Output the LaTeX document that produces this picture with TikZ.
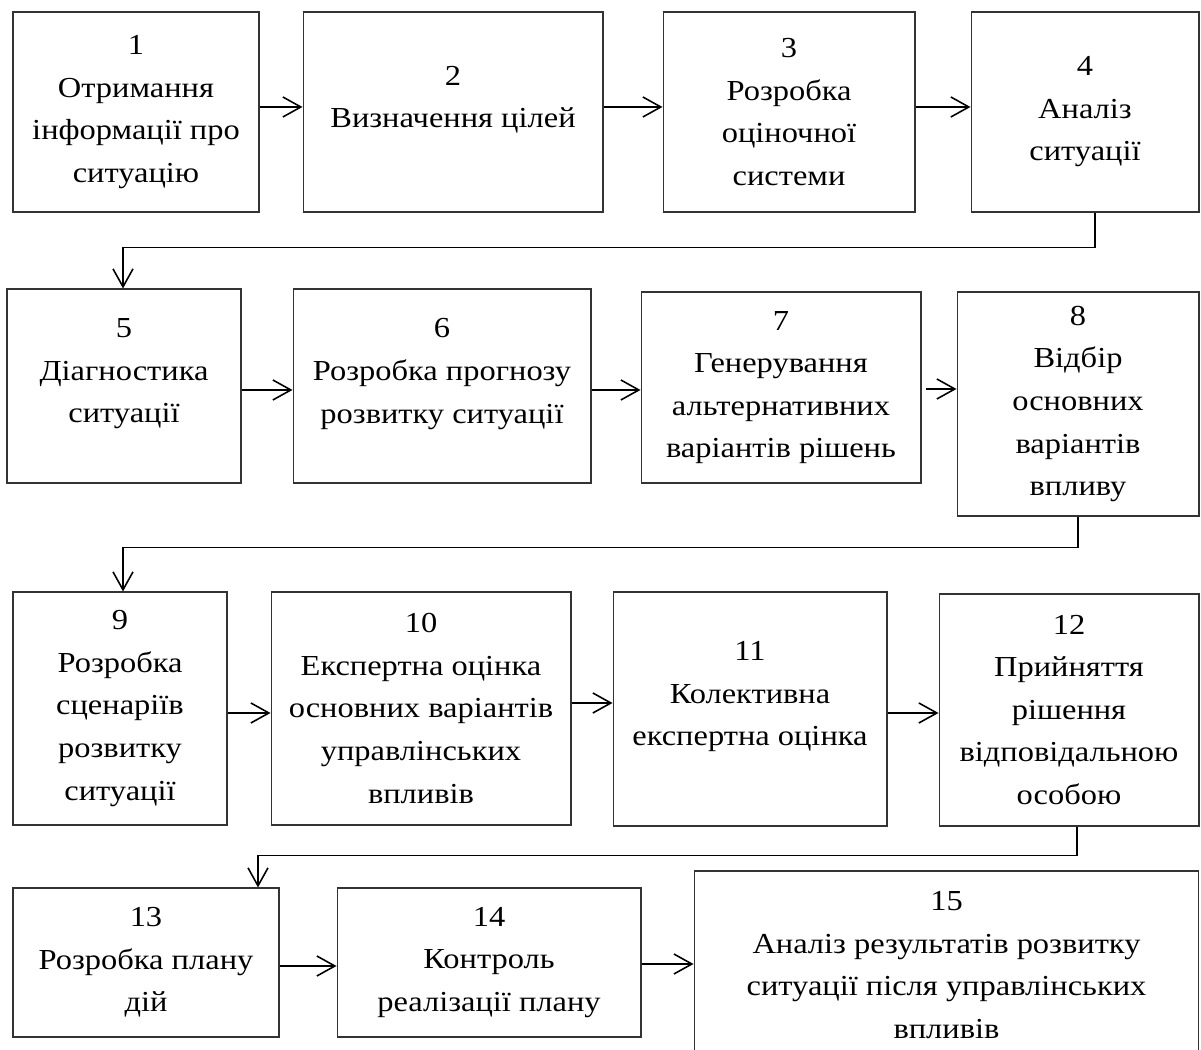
\documentclass[tikz,border=0pt]{standalone}
\usepackage{fontspec}
\setmainfont{Liberation Serif}[FakeStretch=1.12]
\usetikzlibrary{arrows.meta}
\newcommand\padline{\\[-7pt]\mbox{}}

\tikzset{
  blk/.style={draw=black!80, line width=0.6pt, align=center, inner sep=2pt,
    font=\fontsize{16.5}{24.2}\selectfont},
  arr/.style={line width=0.9pt, -{Straight Barb[length=3.6mm,width=4mm]}},
}

\begin{document}
\begin{tikzpicture}[x=0.02cm,y=-0.02cm]
  \clip (0,0) rectangle (1201,1050);
  % row 1
  \node[blk,minimum width=4.92cm,minimum height=4cm] (b1) at (136,112) {1\\Отримання\\інформації про\\ситуацію};
  \node[blk,minimum width=6cm,minimum height=4cm] (b2) at (453,112) {2\\Визначення цілей\padline};
  \node[blk,minimum width=5.04cm,minimum height=4cm] (b3) at (789,112) {3\\Розробка\\оціночної\\системи};
  \node[blk,minimum width=4.56cm,minimum height=4cm] (b4) at (1085,112) {4\\Аналіз\\ситуації};
  % row 2
  \node[blk,minimum width=4.68cm,minimum height=3.88cm] (b5) at (124,386) {5\\Діагностика\\ситуації\padline};
  \node[blk,minimum width=5.96cm,minimum height=3.88cm] (b6) at (442,386) {6\\Розробка прогнозу\\розвитку ситуації\padline};
  \node[blk,minimum width=5.6cm,minimum height=3.82cm] (b7) at (781,387.5) {7\\Генерування\\альтернативних\\варіантів рішень};
  \node[blk,minimum width=4.84cm,minimum height=4.48cm] (b8) at (1078,404) {8\\Відбір\\основних\\варіантів\\впливу};
  % row 3
  \node[blk,minimum width=4.28cm,minimum height=4.66cm] (b9) at (120,708.5) {9\\Розробка\\сценаріїв\\розвитку\\ситуації};
  \node[blk,minimum width=6cm,minimum height=4.66cm] (b10) at (421,708.5) {10\\Експертна оцінка\\основних варіантів\\управлінських\\впливів};
  \node[blk,minimum width=5.48cm,minimum height=4.68cm] (b11) at (750,709) {11\\Колективна\\експертна оцінка\padline};
  \node[blk,minimum width=5.2cm,minimum height=4.64cm] (b12) at (1069,710) {12\\Прийняття\\рішення\\відповідальною\\особою};
  % row 4
  \node[blk,minimum width=5.32cm,minimum height=2.98cm] (b13) at (146,962.5) {13\\Розробка плану\\дій};
  \node[blk,minimum width=6.08cm,minimum height=2.98cm] (b14) at (489,962.5) {14\\Контроль\\реалізації плану};
  \node[blk,minimum width=10.1cm,minimum height=3.76cm] (b15) at (946.5,965) {15\\Аналіз результатів розвитку\\ситуації після управлінських\\впливів};

  % straight arrows
  \draw[arr] (b1.east |- 0,107) -- (b2.west |- 0,107);
  \draw[arr] (b2.east |- 0,107) -- (b3.west |- 0,107);
  \draw[arr] (b3.east |- 0,107) -- (b4.west |- 0,107);
  \draw[arr] (b5.east |- 0,390) -- (b6.west |- 0,390);
  \draw[arr] (b6.east |- 0,390) -- (b7.west |- 0,390);
  \draw[arr] (b7.east |- 0,389) ++(4,0) -- (b8.west |- 0,389);
  \draw[arr] (b9.east |- 0,713) -- (b10.west |- 0,713);
  \draw[arr] (b10.east |- 0,703) -- (b11.west |- 0,703);
  \draw[arr] (b11.east |- 0,713) -- (b12.west |- 0,713);
  \draw[arr] (b13.east |- 0,966) -- (b14.west |- 0,966);
  \draw[arr] (b14.east |- 0,964) -- (b15.west |- 0,964);

  % row to row
  \draw[arr] (b4.south -| 1095,0) -- ++(0,35) -| (b5.north -| 123,0);
  \draw[arr] (b8.south) -- ++(0,31) -| (b9.north -| 123,0);
  \draw[arr] (b12.south -| 1077,0) -- ++(0,29) -| (b13.north -| 258,0);
\end{tikzpicture}
\end{document}
